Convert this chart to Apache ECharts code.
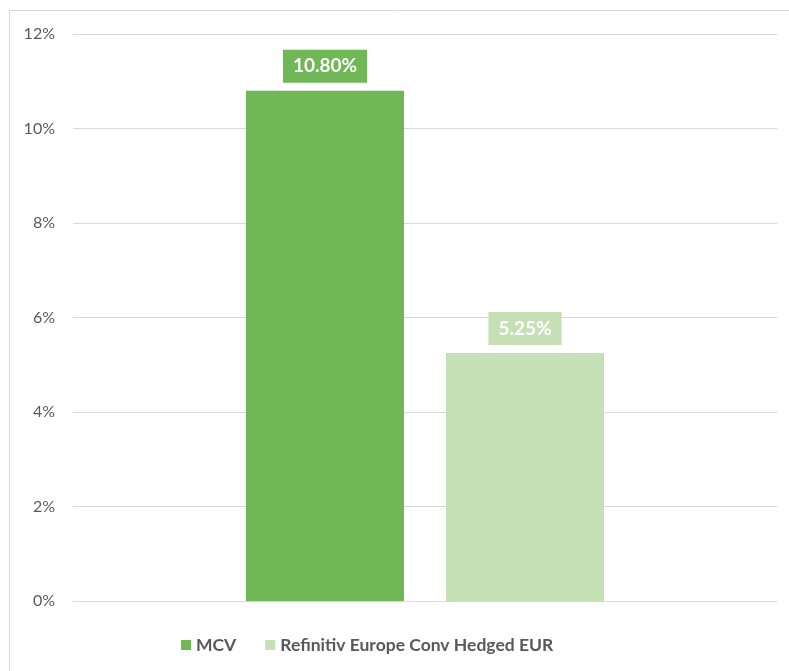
<!DOCTYPE html>
<html><head><meta charset="utf-8">
<script src="https://cdn.jsdelivr.net/npm/echarts@6/dist/echarts.min.js"></script>
<style>html,body{margin:0;padding:0;background:#fff}#c{width:789px;height:671px}</style>
</head><body><div id="c"></div>
<script>
const categories = [''];
const seriesNames = ['MCV', 'Refinitiv Europe Conv Hedged EUR'];
const mcvValues = [10.80];
const benchValues = [5.25];
const colors = ['#70B855', '#C5E0B4'];

const chart = echarts.init(document.getElementById('c'), null, {renderer: 'canvas'});
const font = 'Lato, "Open Sans", sans-serif';
function labelCfg(color) {
  return {
    show: true, position: 'top', distance: 8,
    formatter: p => p.value.toFixed(2) + '%',
    color: '#fff', fontFamily: font, fontWeight: 'bold', fontSize: 19,
    backgroundColor: color, padding: [7, 10, 7, 10]
  };
}
chart.setOption({
  animation: false,
  graphic: [{type: 'rect', shape: {x: 9.5, y: 10.5, width: 800, height: 700},
    style: {fill: 'none', stroke: '#D9D9D9', lineWidth: 1}, silent: true}],
  grid: {left: 73, right: 12, top: 34, bottom: 70},
  legend: {
    top: 631, left: 176, itemWidth: 10, itemHeight: 10, itemGap: 29,
    icon: 'rect',
    textStyle: {color: '#595959', fontFamily: font, fontWeight: 'bold', fontSize: 17.5},
    data: seriesNames
  },
  xAxis: {type: 'category', data: categories,
    axisLine: {lineStyle: {color: '#D9D9D9', width: 1}}, axisTick: {show: false}, axisLabel: {show: false}},
  yAxis: {type: 'value', min: 0, max: 12, interval: 2,
    axisLabel: {formatter: '{value}%', color: '#595959', fontFamily: font, fontSize: 16, margin: 18},
    splitLine: {lineStyle: {color: '#D9D9D9', width: 1}}, axisLine: {show: false}, axisTick: {show: false}},
  series: [
    {name: seriesNames[0], type: 'bar', data: mcvValues, barWidth: 158, barGap: '26.6%',
      itemStyle: {color: colors[0]}, label: labelCfg(colors[0])},
    {name: seriesNames[1], type: 'bar', data: benchValues, barWidth: 158,
      itemStyle: {color: colors[1]}, label: labelCfg(colors[1])}
  ]
});
</script></body></html>
